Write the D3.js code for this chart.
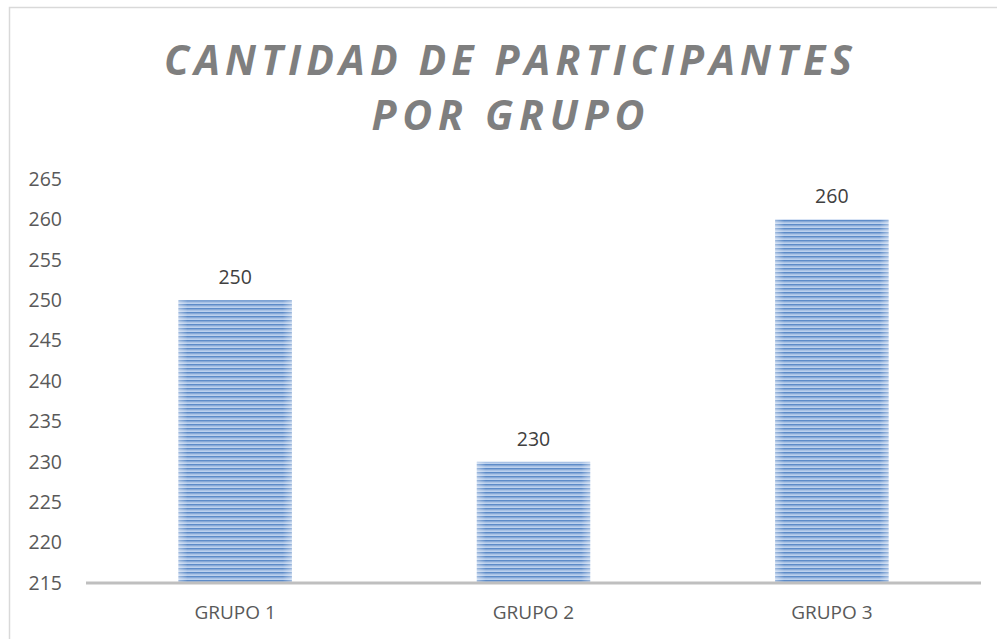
<!DOCTYPE html>
<html>
<head>
<meta charset="utf-8">
<script src="https://cdn.jsdelivr.net/npm/d3@7"></script>
<style>
  body { margin: 0; background: #fff; }
  svg { display: block; font-family: "Open Sans", "Noto Sans", sans-serif; }
</style>
</head>
<body>
<svg id="chart" width="997" height="639"></svg>
<script>
'use strict';

var categories = ["GRUPO 1", "GRUPO 2", "GRUPO 3"];
var values = [250, 230, 260];
var yTicks = [215, 220, 225, 230, 235, 240, 245, 250, 255, 260, 265];
var titleLines = ["CANTIDAD DE PARTICIPANTES", "POR GRUPO"];

var width = 997, height = 639;
var margin = { top: 179, right: 16, bottom: 56, left: 86 };

var svg = d3.select("#chart");

// chart frame
svg.append("rect")
  .attr("x", 9.5).attr("y", 7.5)
  .attr("width", width).attr("height", height)
  .attr("fill", "none")
  .attr("stroke", "#d9d9d9")
  .attr("stroke-width", 1.5);

var defs = svg.append("defs");

var pat = defs.append("pattern")
  .attr("id", "stripes")
  .attr("patternUnits", "userSpaceOnUse")
  .attr("width", 8).attr("height", 4);
pat.append("rect").attr("width", 8).attr("height", 4).attr("fill", "#bcd1ee");
pat.append("rect").attr("y", 0).attr("width", 8).attr("height", 1.6).attr("fill", "#5d8bc8");
pat.append("rect").attr("y", 1.6).attr("width", 8).attr("height", 0.8).attr("fill", "#8eacd9");

var grad = defs.append("linearGradient")
  .attr("id", "shade")
  .attr("x1", "0").attr("x2", "1").attr("y1", "0").attr("y2", "0");
grad.append("stop").attr("offset", "0%").attr("stop-color", "#fff").attr("stop-opacity", 0.4);
grad.append("stop").attr("offset", "8%").attr("stop-color", "#fff").attr("stop-opacity", 0);
grad.append("stop").attr("offset", "92%").attr("stop-color", "#fff").attr("stop-opacity", 0);
grad.append("stop").attr("offset", "100%").attr("stop-color", "#fff").attr("stop-opacity", 0.4);

var x = d3.scaleBand()
  .domain(categories)
  .range([margin.left, width - margin.right])
  .paddingInner(0.62)
  .paddingOuter(0.31);

var y = d3.scaleLinear()
  .domain([215, 265])
  .range([583, margin.top]);

// title
svg.append("g").selectAll("text")
  .data(titleLines)
  .enter().append("text")
    .attr("x", 508)
    .attr("y", function(d, i) { return 75 + i * 55; })
    .attr("text-anchor", "middle")
    .attr("textLength", function(d, i) { return i === 0 ? 688 : 273; })
    .attr("lengthAdjust", "spacing")
    .attr("font-size", 41)
    .attr("font-weight", "bold")
    .attr("font-style", "italic")
    .attr("fill", "#7f7f7f")
    .text(function(d) { return d; });

// y tick labels (no axis line)
svg.append("g").selectAll("text")
  .data(yTicks)
  .enter().append("text")
    .attr("x", 62)
    .attr("y", function(d) { return y(d); })
    .attr("dy", "0.35em")
    .attr("text-anchor", "end")
    .attr("font-size", 19.5)
    .attr("fill", "#595959")
    .text(function(d) { return d; });

// bars
var bars = svg.append("g").selectAll("g")
  .data(values)
  .enter().append("g");

bars.append("rect")
  .attr("x", function(d, i) { return x(categories[i]); })
  .attr("y", function(d) { return y(d); })
  .attr("width", x.bandwidth())
  .attr("height", function(d) { return y(215) - y(d); })
  .attr("fill", "url(#stripes)");

bars.append("rect")
  .attr("x", function(d, i) { return x(categories[i]); })
  .attr("y", function(d) { return y(d); })
  .attr("width", x.bandwidth())
  .attr("height", function(d) { return y(215) - y(d); })
  .attr("fill", "url(#shade)");

bars.append("text")
  .attr("x", function(d, i) { return x(categories[i]) + x.bandwidth() / 2; })
  .attr("y", function(d) { return y(d) - 16; })
  .attr("text-anchor", "middle")
  .attr("font-size", 19.5)
  .attr("fill", "#404040")
  .text(function(d) { return d; });

// x axis
var xAxis = svg.append("g")
  .attr("transform", "translate(0," + y(215) + ")")
  .call(d3.axisBottom(x).tickSize(0).tickPadding(23));

xAxis.select(".domain")
  .attr("d", "M" + margin.left + ",0H" + (width - margin.right))
  .attr("stroke", "#bfbfbf")
  .attr("stroke-width", 3);

xAxis.selectAll(".tick text")
  .attr("font-size", 19)
  .attr("font-family", "\"Open Sans\", sans-serif")
  .attr("fill", "#595959");
</script>
</body>
</html>
